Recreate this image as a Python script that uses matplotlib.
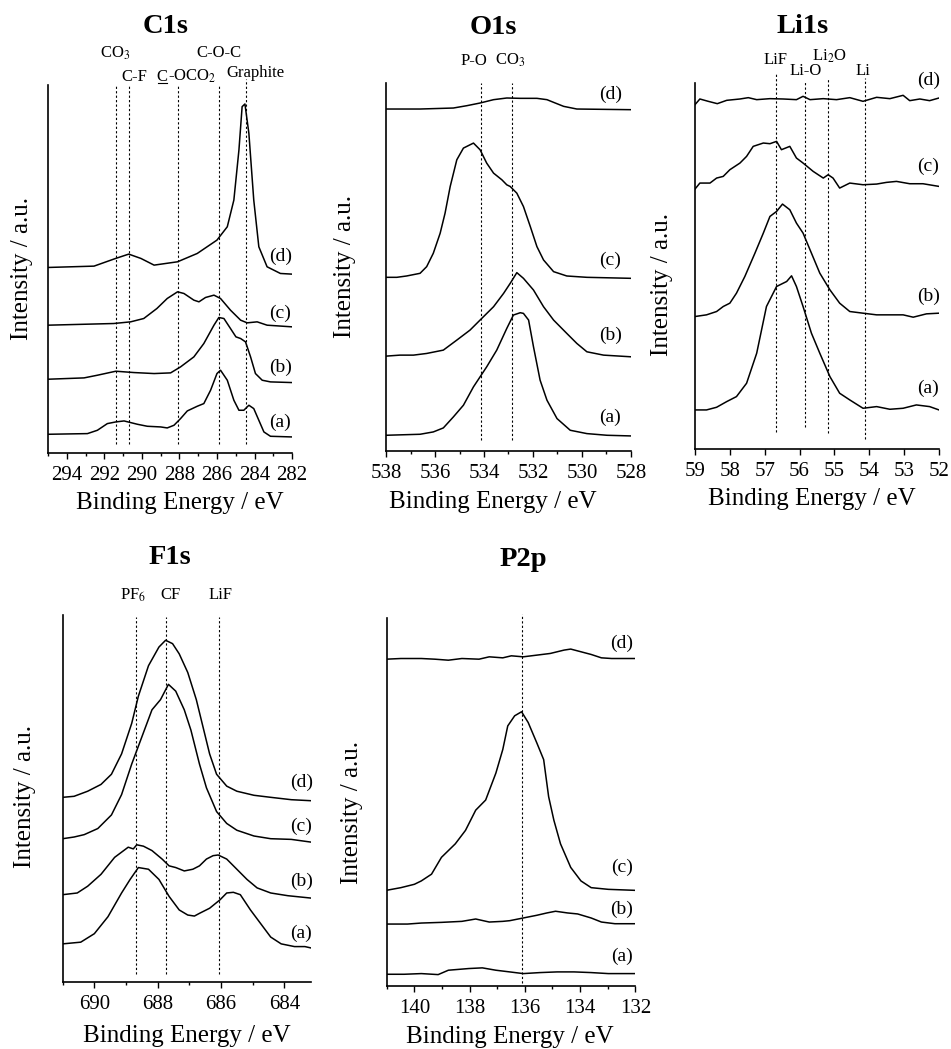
import matplotlib
matplotlib.use("Agg")
import matplotlib.pyplot as plt
from matplotlib.ticker import MultipleLocator
from matplotlib.lines import Line2D

plt.rcParams['font.family'] = ['Liberation Serif', 'DejaVu Serif']
plt.rcParams['mathtext.fontset'] = 'stix'

# ---------------- C1s ----------------
c1s_d_E = [295.0, 292.55, 291.4, 290.7, 290.05, 289.35, 288.1, 287.05, 286.0, 285.45,
           285.1, 284.83, 284.66, 284.51, 284.3, 284.04, 283.77, 283.33, 282.62, 282.0]
c1s_d_I = [556, 560, 583, 596, 583, 563, 573, 598, 638, 678,
           758, 908, 1038, 1046, 958, 758, 618, 558, 538, 536]
c1s_c_E = [295.0, 291.5, 290.6, 289.9, 289.2, 288.65, 288.1, 287.76, 287.23, 286.96,
           286.61, 286.16, 285.81, 285.28, 284.74, 284.39, 283.86, 283.33, 282.0]
c1s_c_I = [383, 388, 393, 403, 433, 463, 483, 478, 458, 453,
           466, 473, 463, 428, 398, 390, 393, 383, 378]
c1s_b_E = [295.0, 293.08, 292.37, 291.39, 290.42, 289.35, 288.47, 287.94, 287.23, 286.7,
           286.16, 285.9, 285.63, 285.28, 284.99, 284.74, 284.48, 284.21, 283.95, 283.59,
           283.15, 282.0]
c1s_b_I = [221, 225, 233, 245, 241, 238, 240, 258, 288, 328,
           383, 406, 403, 373, 348, 343, 333, 288, 238, 218,
           213, 211]
c1s_a_E = [295.0, 292.9, 292.37, 291.84, 291.39, 290.95, 290.24, 289.71, 289.0, 288.65,
           288.29, 287.94, 287.58, 287.05, 286.7, 286.34, 286.0, 285.81, 285.45, 285.1,
           284.83, 284.57, 284.3, 284.04, 283.77, 283.5, 283.15, 282.0]
c1s_a_I = [56, 58, 68, 88, 93, 96, 86, 80, 78, 75,
           83, 103, 126, 140, 148, 188, 238, 248, 218, 158,
           128, 128, 143, 133, 98, 63, 50, 48]
c1s_refs = [291.4, 290.7, 288.1, 285.9, 284.45]

# ---------------- O1s ----------------
o1s_d_E = [538.0, 536.61, 535.25, 534.7, 534.16, 533.61, 533.07, 532.52, 531.84, 531.43,
           531.16, 530.75, 530.21, 528.0]
o1s_d_I = [1024, 1024, 1027, 1034, 1042, 1052, 1057, 1056, 1056, 1052,
           1044, 1032, 1024, 1022]
o1s_c_E = [538.0, 537.56, 537.16, 536.61, 536.34, 536.07, 535.79, 535.59, 535.38, 535.11,
           534.84, 534.43, 534.16, 533.89, 533.61, 533.27, 533.07, 532.93, 532.66, 532.39,
           532.11, 531.84, 531.57, 531.16, 530.62, 529.8, 528.0]
o1s_c_I = [520, 520, 524, 532, 552, 592, 652, 712, 792, 872,
           907, 922, 902, 862, 832, 812, 797, 792, 772, 732,
           672, 612, 572, 537, 524, 520, 517]
o1s_b_E = [538.0, 537.43, 536.88, 536.34, 535.66, 535.11, 534.57, 534.16, 533.61, 533.2,
           532.93, 532.66, 532.39, 531.98, 531.57, 531.16, 530.62, 530.21, 529.8, 529.12,
           528.0]
o1s_b_I = [284, 287, 287, 292, 302, 332, 362, 392, 432, 472,
           502, 534, 517, 482, 432, 392, 352, 322, 297, 287,
           282]
o1s_a_E = [538.0, 536.61, 536.07, 535.66, 535.25, 534.84, 534.43, 533.89, 533.48, 533.07,
           532.8, 532.52, 532.39, 532.18, 531.98, 531.71, 531.43, 531.02, 530.48, 529.8,
           528.98, 528.0]
o1s_a_I = [47, 50, 57, 69, 102, 137, 192, 252, 302, 367,
           407, 414, 412, 392, 312, 212, 152, 97, 62, 52,
           47, 45]
o1s_refs = [534.13, 532.85]

# ---------------- Li1s ----------------
li1s_d_E = [59.0, 58.86, 58.62, 58.36, 58.09, 57.71, 57.47, 57.23, 56.85, 56.47,
            56.09, 55.9, 55.7, 55.32, 54.94, 54.56, 54.18, 53.79, 53.41, 53.03,
            52.84, 52.55, 52.27, 52.0]
li1s_d_I = [1032, 1049, 1042, 1035, 1045, 1049, 1053, 1047, 1050, 1049,
            1047, 1057, 1047, 1050, 1047, 1053, 1042, 1054, 1050, 1060,
            1044, 1049, 1044, 1052]
li1s_c_E = [59.0, 58.86, 58.57, 58.38, 58.19, 58.0, 57.71, 57.52, 57.33, 57.04,
            56.85, 56.66, 56.52, 56.28, 56.09, 55.9, 55.61, 55.32, 55.18, 55.04,
            54.85, 54.56, 54.18, 53.79, 53.51, 53.22, 52.84, 52.46, 52.0]
li1s_c_I = [779, 797, 797, 812, 817, 837, 857, 877, 907, 917,
            915, 922, 897, 907, 872, 857, 832, 812, 822, 812,
            782, 797, 792, 794, 799, 802, 795, 795, 787]
li1s_b_E = [59.0, 58.67, 58.38, 58.19, 58.0, 57.81, 57.57, 57.28, 57.04, 56.85,
            56.66, 56.49, 56.28, 56.09, 55.9, 55.66, 55.42, 55.13, 54.85, 54.56,
            54.18, 53.79, 53.41, 53.03, 52.74, 52.36, 52.0]
li1s_b_I = [397, 402, 412, 427, 437, 467, 517, 587, 647, 697,
            712, 734, 717, 677, 647, 587, 527, 477, 437, 412,
            407, 402, 402, 402, 395, 405, 407]
li1s_a_E = [59.0, 58.67, 58.38, 58.09, 57.81, 57.52, 57.23, 56.95, 56.66, 56.37,
            56.23, 56.09, 55.9, 55.66, 55.42, 55.13, 54.85, 54.56, 54.18, 53.79,
            53.41, 53.03, 52.65, 52.27, 52.0]
li1s_a_I = [117, 117, 125, 142, 157, 197, 287, 427, 487, 502,
            519, 487, 427, 347, 287, 217, 167, 147, 122, 127,
            119, 122, 132, 127, 117]
li1s_refs = [56.68, 55.85, 55.18, 54.13]

# ---------------- F1s ----------------
f1s_d_E = [691.0, 690.64, 690.21, 689.79, 689.46, 689.14, 688.82, 688.61, 688.29, 687.96,
           687.75, 687.53, 687.32, 687.05, 686.78, 686.57, 686.36, 686.14, 685.82, 685.5,
           684.96, 684.43, 683.78, 683.16]
f1s_d_I = [544, 547, 562, 582, 612, 672, 762, 842, 932, 987,
           1007, 997, 967, 912, 832, 752, 672, 612, 577, 562,
           550, 544, 537, 534]
f1s_c_E = [691.0, 690.64, 690.32, 689.89, 689.46, 689.14, 688.82, 688.5, 688.18, 687.91,
           687.66, 687.43, 687.16, 686.95, 686.68, 686.46, 686.14, 685.82, 685.5, 684.96,
           684.43, 683.78, 683.16]
f1s_c_I = [422, 427, 434, 452, 492, 552, 642, 722, 802, 832,
           877, 857, 802, 742, 642, 572, 502, 467, 447, 430,
           422, 420, 412]
f1s_b_E = [691.0, 690.54, 690.21, 689.79, 689.36, 688.93, 688.77, 688.66, 688.45, 688.18,
           687.86, 687.64, 687.43, 687.16, 686.89, 686.68, 686.46, 686.25, 686.09, 685.82,
           685.5, 685.18, 684.86, 684.43, 683.89, 683.16]
f1s_b_I = [257, 262, 282, 317, 367, 397, 392, 404, 400, 387,
           362, 342, 337, 327, 332, 342, 362, 372, 374, 362,
           332, 302, 277, 262, 254, 247]
f1s_a_E = [691.0, 690.43, 690.0, 689.57, 689.14, 688.87, 688.61, 688.29, 687.96, 687.64,
           687.32, 687.05, 686.84, 686.68, 686.36, 686.03, 685.82, 685.61, 685.39, 685.07,
           684.75, 684.43, 684.1, 683.68, 683.35, 683.16]
f1s_a_I = [112, 117, 142, 192, 262, 302, 337, 332, 302, 252,
           212, 197, 194, 202, 217, 242, 262, 264, 257, 212,
           172, 132, 112, 104, 104, 100]
f1s_refs = [688.68, 687.75, 686.06]

# ---------------- P2p ----------------
p2p_d_E = [141.02, 140.49, 139.75, 139.26, 138.77, 138.28, 137.66, 137.29, 136.8, 136.49,
           136.06, 135.57, 135.08, 134.58, 134.34, 133.97, 133.6, 133.23, 132.86, 132.0]
p2p_d_I = [970, 972, 972, 970, 967, 972, 970, 977, 974, 980,
           977, 982, 987, 997, 1000, 992, 984, 974, 972, 972]
p2p_c_E = [141.02, 140.49, 140.0, 139.75, 139.38, 139.02, 138.52, 138.15, 137.78, 137.42,
           137.05, 136.8, 136.62, 136.37, 136.12, 135.88, 135.57, 135.32, 135.14, 134.95,
           134.71, 134.34, 133.97, 133.6, 132.98, 132.0]
p2p_c_I = [284, 292, 302, 312, 332, 382, 422, 462, 522, 552,
           632, 702, 772, 802, 814, 782, 722, 672, 562, 492,
           422, 352, 312, 292, 287, 284]
p2p_b_E = [141.02, 140.25, 139.75, 139.02, 138.28, 137.78, 137.29, 136.8, 136.55, 136.06,
           135.57, 135.2, 134.89, 134.46, 134.09, 133.6, 133.23, 132.74, 132.0]
p2p_b_I = [184, 184, 187, 189, 192, 199, 190, 192, 194, 202,
           210, 217, 222, 217, 214, 202, 190, 185, 185]
p2p_a_E = [141.02, 140.37, 139.75, 139.14, 138.77, 138.03, 137.54, 137.05, 136.55, 136.06,
           135.45, 134.83, 134.22, 133.6, 132.98, 132.0]
p2p_a_I = [35, 35, 37, 34, 47, 52, 54, 47, 42, 37,
           40, 42, 42, 40, 37, 37]
p2p_refs = [136.09]

curve_names = ['(a)', '(b)', '(c)', '(d)']

fig = plt.figure(figsize=(9.51, 10.49), dpi=100)


def make_panel(rect, title, title_pos, curves, xlim, ylim, major, minor,
               refs, ref_span, name_x, name_y, ylab_pos, xlab_pos):
    ax = fig.add_axes(rect)
    for E, I in curves:
        ax.plot(E, I, color='black', lw=1.1)
    for r, (y0, y1) in zip(refs, ref_span):
        ax.vlines(r, y0, y1, colors='black', linestyles=(0, (2, 2)), lw=0.8,
                  clip_on=False)
    ax.set_xlim(*xlim)
    ax.set_ylim(*ylim)
    ax.xaxis.set_major_locator(MultipleLocator(major))
    if minor:
        ax.xaxis.set_minor_locator(MultipleLocator(minor))
    ax.set_yticks([])
    for s in ['top', 'right']:
        ax.spines[s].set_visible(False)
    for s in ['left', 'bottom']:
        ax.spines[s].set_linewidth(1.2)
    ax.tick_params(axis='x', which='major', direction='out', length=4.5,
                   width=1.0, labelsize=15, pad=5)
    ax.tick_params(axis='x', which='minor', direction='out', length=2.5,
                   width=1.0)
    for lab, y in zip(curve_names, name_y):
        ax.text(name_x, y, lab, fontsize=14, ha='center', va='center',
                clip_on=False)
    ax.text(title_pos[0], title_pos[1], title, transform=ax.transAxes,
            fontsize=20.5, fontweight='bold', ha='center', va='center')
    ax.set_ylabel('Intensity / a.u.', fontsize=18)
    ax.yaxis.set_label_coords(*ylab_pos)
    ax.yaxis.label.set_va('center')
    ax.set_xlabel('Binding Energy / eV', fontsize=18)
    ax.xaxis.set_label_coords(*xlab_pos)
    ax.xaxis.label.set_va('center')
    return ax


ax1 = make_panel([0.0505, 0.5682, 0.2566, 0.3508], 'C1s', (0.48, 1.158),
                 [(c1s_a_E, c1s_a_I), (c1s_b_E, c1s_b_I),
                  (c1s_c_E, c1s_c_I), (c1s_d_E, c1s_d_I)],
                 (295, 282), (0, 1103), 2, 1, c1s_refs,
                 [(28, 1100), (28, 1100), (28, 1100), (28, 1100), (28, 1120)],
                 282.62, [93, 258, 418, 588], (-0.107, 0.5), (0.54, -0.136))
ax1.text(291.4, 1198, 'CO$_3$', fontsize=12, ha='center', va='center')
ax1.text(290.42, 1128, 'C-F', fontsize=12, ha='center', va='center')
t_c = ax1.text(288.62, 1128, 'C', fontsize=12, ha='right', va='center')
ax1.text(288.62, 1128, '-OCO$_2$', fontsize=12, ha='left', va='center')
ax1.text(285.9, 1198, 'C-O-C', fontsize=12, ha='center', va='center')
ax1.text(283.95, 1138, 'Graphite', fontsize=12, ha='center', va='center')

ax2 = make_panel([0.4059, 0.5701, 0.2576, 0.3508], 'O1s', (0.437, 1.152),
                 [(o1s_a_E, o1s_a_I), (o1s_b_E, o1s_b_I),
                  (o1s_c_E, o1s_c_I), (o1s_d_E, o1s_d_I)],
                 (538, 528), (0, 1102), 2, 1, o1s_refs,
                 [(32, 1102), (32, 1102)],
                 528.84, [102, 347, 572, 1067], (-0.167, 0.5), (0.437, -0.139))
ax2.text(534.4, 1169, 'P-O', fontsize=12, ha='center', va='center')
ax2.text(532.93, 1169, 'CO$_3$', fontsize=12, ha='center', va='center')

ax3 = make_panel([0.7308, 0.5720, 0.2566, 0.3489], 'Li1s', (0.44, 1.153),
                 [(li1s_a_E, li1s_a_I), (li1s_b_E, li1s_b_I),
                  (li1s_c_E, li1s_c_I), (li1s_d_E, li1s_d_I)],
                 (59, 52), (0, 1097), 1, None, li1s_refs,
                 [(52, 1125), (67, 1102), (47, 1112), (29, 1112)],
                 52.31, [182, 457, 847, 1105], (-0.135, 0.45), (0.48, -0.137))
ax3.text(56.69, 1167, 'LiF', fontsize=12, ha='center', va='center')
ax3.text(55.83, 1132, 'Li-O', fontsize=12, ha='center', va='center')
ax3.text(55.13, 1177, 'Li$_2$O', fontsize=12, ha='center', va='center')
ax3.text(54.18, 1132, 'Li', fontsize=12, ha='center', va='center')

ax4 = make_panel([0.0659, 0.0640, 0.2614, 0.3499], 'F1s', (0.43, 1.157),
                 [(f1s_a_E, f1s_a_I), (f1s_b_E, f1s_b_I),
                  (f1s_c_E, f1s_c_I), (f1s_d_E, f1s_d_I)],
                 (691, 683.15), (0, 1082), 2, 1, f1s_refs,
                 [(22, 1077), (22, 1077), (22, 1077)],
                 683.46, [142, 297, 457, 587], (-0.15, 0.504), (0.5, -0.147))
ax4.text(688.77, 1140, 'PF$_6$', fontsize=12, ha='center', va='center')
ax4.text(687.59, 1140, 'CF', fontsize=12, ha='center', va='center')
ax4.text(686.03, 1140, 'LiF', fontsize=12, ha='center', va='center')

ax5 = make_panel([0.4067, 0.0600, 0.2614, 0.3508], 'P2p', (0.55, 1.16),
                 [(p2p_a_E, p2p_a_I), (p2p_b_E, p2p_b_I),
                  (p2p_c_E, p2p_c_I), (p2p_d_E, p2p_d_I)],
                 (141, 132), (0, 1092), 2, 1, p2p_refs,
                 [(10, 1104)],
                 132.49, [87, 227, 352, 1017], (-0.14, 0.473), (0.496, -0.139))

# underline the C of C-OCO2
fig.canvas.draw()
bb = t_c.get_window_extent().transformed(fig.transFigure.inverted())
fig.add_artist(Line2D([bb.x0 + 0.001, bb.x1 - 0.001], [bb.y0 + 0.002, bb.y0 + 0.002],
                      color='black', lw=0.8, transform=fig.transFigure))

fig.savefig('out.png', dpi=100)
